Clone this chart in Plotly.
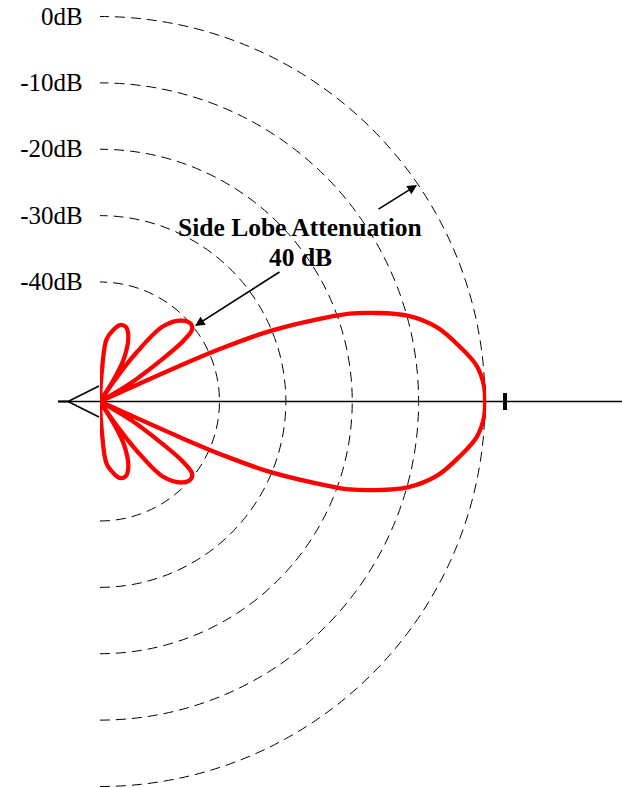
import plotly.graph_objects as go

W, H = 622, 788

# Reference rings (dB) and their labels
ring_db = [0, -10, -20, -30, -40]
ring_labels = ["0dB", "-10dB", "-20dB", "-30dB", "-40dB"]

# Radiation pattern, upper half: angle from boresight (deg) and level (dB).
# Levels at the floor value mark the nulls.
pattern_deg = [0, 2.3, 5.4, 8.7, 12.4, 15.6, 18.0, 19.4, 20.1, 22.5, 23.6, 24.1, 24.6,
               28.0, 31.0, 34.0, 36.0, 38.0, 40.5, 44.5, 50.0, 53.3, 55.5, 56.5,
               58.0, 61.0, 66.5, 71.0, 75.5, 79.0, 84.0, 86.4, 88.0, 90.0]
pattern_db = [0.0, -0.1, -1.0, -3.2, -6.0, -9.9, -14.8, -18.1, -20.6, -30.3, -38.0, -45.0, -58.0,
              -58.0, -52.5, -47.0, -42.5, -40.4, -40.0, -40.6, -43.2, -48.8, -54.0, -58.0,
              -54.0, -50.5, -47.3, -46.1, -46.1, -46.9, -48.6, -53.2, -56.2, -58.0]

DB_FLOOR = -58.0      # radial axis minimum (centre of the plot)
DB_HEAD = 0.2         # small headroom above 0 dB so the main lobe tip is not clipped

# Full pattern: mirror the upper half onto the lower half
theta = [-a for a in reversed(pattern_deg)] + pattern_deg[1:]
level = list(reversed(pattern_db)) + pattern_db[1:]
level = [max(v, DB_FLOOR) for v in level]

# Layout geometry (pixels)
CX, CY = 100.0, 401.5     # pattern origin
R0 = 385.0                # radius of the 0 dB ring
px_per_db = R0 / (0 - DB_FLOOR)
R_TOT = R0 + DB_HEAD * px_per_db

def px(x):
    return x / W

def py(y):
    return 1 - y / H

serif = "Liberation Serif, Times New Roman, serif"

fig = go.Figure()
fig.add_trace(go.Scatterpolar(
    r=level, theta=theta, mode="lines",
    line=dict(color="#ff0000", width=4.3, shape="spline", smoothing=1.0),
    cliponaxis=False, hoverinfo="skip", showlegend=False,
))

fig.update_layout(
    width=W, height=H,
    margin=dict(l=0, r=0, t=0, b=0),
    paper_bgcolor="white",
    showlegend=False,
    polar=dict(
        domain=dict(x=[CX / W, (CX + R_TOT) / W],
                    y=[(H - (CY + R_TOT)) / H, (H - (CY - R_TOT)) / H]),
        sector=[-90, 90],
        bgcolor="rgba(0,0,0,0)",
        radialaxis=dict(
            range=[DB_FLOOR, DB_HEAD],
            angle=90,
            side="counterclockwise",
            tickangle=90,
            tickvals=ring_db,
            ticktext=ring_labels,
            tickfont=dict(family=serif, size=25, color="black"),
            ticks="outside", ticklen=8, tickcolor="rgba(0,0,0,0)",
            showline=False,
            showgrid=True, gridcolor="black", gridwidth=1, griddash="10px,6px",
        ),
        angularaxis=dict(
            showline=False, showgrid=False, showticklabels=False, ticks="",
        ),
    ),
)

# Boresight axis, end tick and the feed wedge
shapes = [
    dict(type="line", xref="paper", yref="paper", x0=px(58), x1=px(622), y0=py(CY), y1=py(CY),
         line=dict(color="black", width=1.3), layer="below"),
    dict(type="line", xref="paper", yref="paper", x0=px(505), x1=px(505), y0=py(393), y1=py(410),
         line=dict(color="black", width=4)),
    dict(type="path", xref="paper", yref="paper",
         path=f"M {px(99)} {py(386)} L {px(68)} {py(CY)} L {px(99)} {py(417)}",
         line=dict(color="black", width=1.6)),
    dict(type="line", xref="paper", yref="paper", x0=px(58), x1=px(68), y0=py(CY), y1=py(CY),
         line=dict(color="black", width=2)),
]
fig.update_layout(shapes=shapes)

title_font = dict(family=serif, size=25.5, color="black")
annotations = [
    dict(x=px(300), y=py(228), xref="paper", yref="paper", text="<b>Side Lobe Attenuation</b>",
         showarrow=False, xanchor="center", yanchor="middle", font=title_font),
    dict(x=px(300), y=py(257), xref="paper", yref="paper", text="<b>40 dB</b>",
         showarrow=False, xanchor="center", yanchor="middle", font=title_font),
    dict(x=px(195), y=py(326), xref="paper", yref="paper", text="",
         showarrow=True, ax=86, ay=-55, arrowhead=2, arrowsize=1.2, arrowwidth=1.6,
         arrowcolor="black", standoff=0),
    dict(x=px(417), y=py(185), xref="paper", yref="paper", text="",
         showarrow=True, ax=-40, ay=25, arrowhead=2, arrowsize=1.2, arrowwidth=1.6,
         arrowcolor="black", standoff=0),
]
fig.update_layout(annotations=annotations)

fig.write_html("out.html")
